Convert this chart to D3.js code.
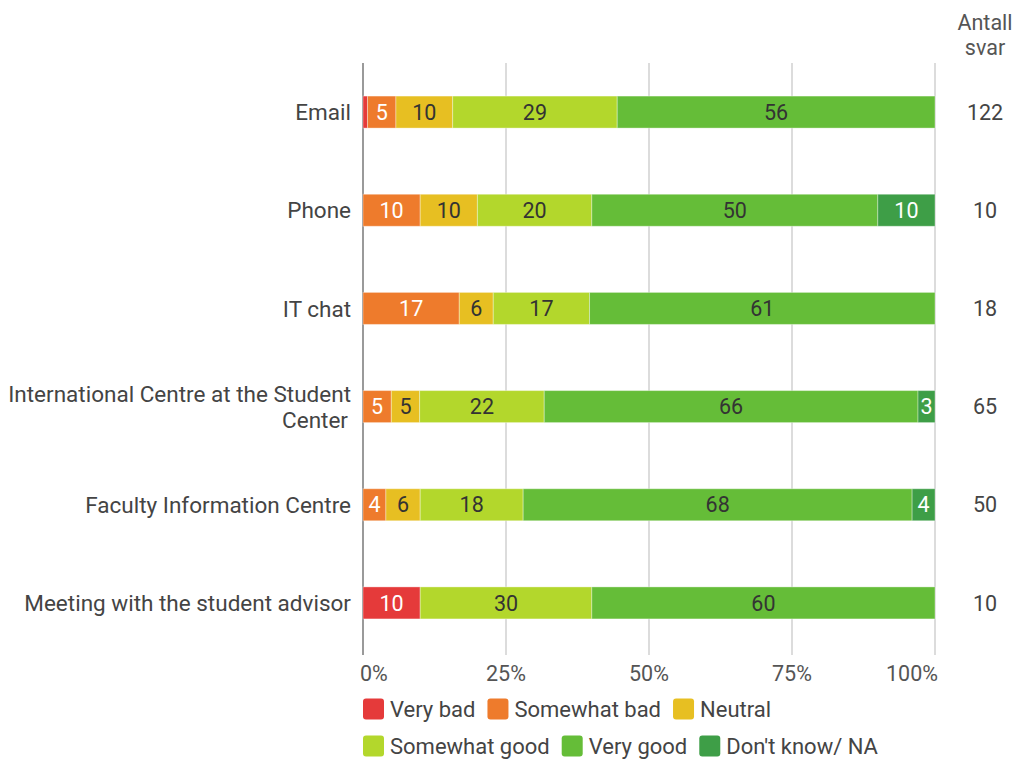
<!DOCTYPE html>
<html><head><meta charset="utf-8">
<script src="https://cdn.jsdelivr.net/npm/d3@7"></script>
<style>body{margin:0;background:#fff;font-family:Roboto,"Noto Sans",sans-serif;}</style>
</head><body><svg id="c" width="1017" height="760"></svg>
<script>
const categories = ["Email","Phone","IT chat","International Centre at the Student Center","Faculty Information Centre","Meeting with the student advisor"];
const seriesNames = ["Very bad","Somewhat bad","Neutral","Somewhat good","Very good","Don't know/ NA"];
const colors = ["#e53a3a","#ee7b2c","#e7bf22","#b3d72c","#65bd38","#3e9e47"];
const veryBad      = [0.8, 0,  0,  0,  0, 10];
const somewhatBad  = [5,  10, 17,  5,  4,  0];
const neutral      = [10, 10,  6,  5,  6,  0];
const somewhatGood = [29, 20, 17, 22, 18, 30];
const veryGood     = [56, 50, 61, 66, 68, 60];
const dontKnow     = [0,  10,  0,  3,  4,  0];
const answers = [122, 10, 18, 65, 50, 10];
const tickValues = [0, 0.25, 0.5, 0.75, 1];
const tickLabels = ["0%","25%","50%","75%","100%"];
const labelLines = [["Email"],["Phone"],["IT chat"],["International Centre at the Student","Center"],["Faculty Information Centre"],["Meeting with the student advisor"]];

const allSeries = [veryBad, somewhatBad, neutral, somewhatGood, veryGood, dontKnow];
const textDark = [false,false,true,true,true,false];
const FS = 21.5;
const FSL = 22.5;

const svg = d3.select("#c");
const x = d3.scaleLinear().domain([0,1]).range([363,935]);
const y = d3.scaleBand().domain(categories).range([63,652]).paddingInner(0.674).paddingOuter(0.337);

// grid
svg.append("g").selectAll("line").data(tickValues).join("line")
  .attr("x1",d=>x(d)).attr("x2",d=>x(d)).attr("y1",63).attr("y2",655)
  .attr("stroke",d=>d===0?"#9a9a9a":"#dcdcdc").attr("stroke-width",2);

// tick labels
svg.append("g").selectAll("text").data(tickValues).join("text")
  .attr("x",(d,i)=>x(d)+(i===0?-3:(i===4?3:0))).attr("y",673).attr("dy","0.36em")
  .attr("text-anchor",(d,i)=>i===0?"start":(i===4?"end":"middle"))
  .attr("font-size",FS).attr("fill","#555")
  .text((d,i)=>tickLabels[i]);

// stack
const rows = categories.map((c,i)=>{
  const total = d3.sum(allSeries,s=>s[i]);
  let acc = 0;
  return allSeries.map((s,k)=>{
    const v = s[i];
    const seg = {cat:c, k, v, x0:acc/total, x1:(acc+v)/total};
    acc += v;
    return seg;
  }).filter(d=>d.v>0);
});
const segs = rows.flat();
const g = svg.append("g");
g.selectAll("rect").data(segs).join("rect")
  .attr("x",d=>x(d.x0)).attr("width",d=>x(d.x1)-x(d.x0))
  .attr("y",d=>y(d.cat)).attr("height",y.bandwidth())
  .attr("fill",d=>colors[d.k])
  .attr("stroke","rgba(255,255,255,0.35)").attr("stroke-width",1);
g.selectAll("text").data(segs.filter(d=>x(d.x1)-x(d.x0)>12)).join("text")
  .attr("x",d=>(x(d.x0)+x(d.x1))/2).attr("y",d=>y(d.cat)+y.bandwidth()/2)
  .attr("dy","0.36em").attr("text-anchor","middle").attr("font-size",FS)
  .attr("fill",d=>textDark[d.k]?"#333":"#fff")
  .text(d=>Math.round(d.v));

// category labels
categories.forEach((c,i)=>{
  const lines = labelLines[i];
  const cy = y(c)+y.bandwidth()/2;
  const t = svg.append("text").attr("text-anchor","end").attr("font-size",FSL).attr("fill","#444");
  lines.forEach((l,j)=>{
    t.append("tspan").attr("x",l==="Center"?348:351)
      .attr("y",cy + (j-(lines.length-1)/2)*26).attr("dy","0.36em").text(l);
  });
});

// answers column
svg.append("text").attr("x",985).attr("y",22).attr("dy","0.36em").attr("text-anchor","middle").attr("font-size",FS).attr("fill","#555").text("Antall");
svg.append("text").attr("x",985).attr("y",47).attr("dy","0.36em").attr("text-anchor","middle").attr("font-size",FS).attr("fill","#555").text("svar");
svg.append("g").selectAll("text").data(categories).join("text")
  .attr("x",985).attr("y",d=>y(d)+y.bandwidth()/2).attr("dy","0.36em")
  .attr("text-anchor","middle").attr("font-size",FS).attr("fill","#444")
  .text((d,i)=>answers[i]);

// legend
const legendRows = [[0,1,2],[3,4,5]];
const lg = svg.append("g");
legendRows.forEach((r,ri)=>{
  let cx = 363;
  const ly = 709 + ri*37;
  r.forEach(k=>{
    lg.append("rect").attr("x",cx).attr("y",ly-10.5).attr("width",21).attr("height",21).attr("rx",3).attr("fill",colors[k]);
    const t = lg.append("text").attr("x",cx+27).attr("y",ly).attr("dy","0.36em").attr("font-size",22).attr("fill","#444").text(seriesNames[k]);
    cx += 27 + t.node().getComputedTextLength() + 12;
  });
});
</script></body></html>
